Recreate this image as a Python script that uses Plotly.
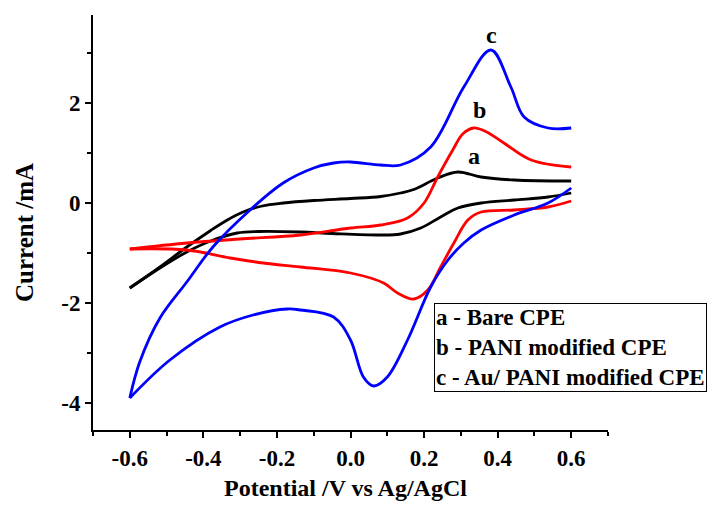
import plotly.graph_objects as go

# Curve a - Bare CPE
a_rev_x = [0.6, 0.537, 0.445, 0.355, 0.292, 0.245, 0.191, 0.136, 0.082, -0.05, -0.136, -0.25, -0.308, -0.38, -0.445, -0.518, -0.6]
a_rev_y = [0.20, 0.12, 0.06, 0.0, -0.10, -0.28, -0.50, -0.62, -0.64, -0.61, -0.58, -0.57, -0.60, -0.76, -0.98, -1.30, -1.70]
a_fwd_x = [-0.6, -0.518, -0.445, -0.38, -0.335, -0.292, -0.24, -0.183, -0.1, 0.0, 0.082, 0.136, 0.172, 0.237, 0.292, 0.355, 0.445, 0.6]
a_fwd_y = [-1.70, -1.28, -0.88, -0.55, -0.34, -0.18, -0.06, 0.0, 0.05, 0.09, 0.13, 0.20, 0.27, 0.50, 0.62, 0.52, 0.46, 0.44]

# Curve b - PANI modified CPE
b_rev_x = [0.6, 0.537, 0.445, 0.355, 0.319, 0.281, 0.245, 0.21, 0.172, 0.128, 0.09, 0.0, -0.136, -0.237, -0.327, -0.445, -0.6]
b_rev_y = [0.04, -0.08, -0.14, -0.18, -0.34, -0.80, -1.28, -1.74, -1.92, -1.80, -1.60, -1.40, -1.28, -1.20, -1.10, -0.94, -0.92]
b_fwd_x = [-0.6, -0.445, -0.3, -0.136, 0.0, 0.082, 0.155, 0.2, 0.237, 0.278, 0.305, 0.335, 0.37, 0.417, 0.491, 0.6]
b_fwd_y = [-0.92, -0.80, -0.72, -0.64, -0.50, -0.44, -0.30, 0.0, 0.52, 1.06, 1.38, 1.50, 1.42, 1.20, 0.86, 0.72]

# Curve c - Au/ PANI modified CPE
c_rev_x = [0.6, 0.537, 0.445, 0.355, 0.308, 0.265, 0.218, 0.155, 0.1, 0.063, 0.035, 0.0, -0.046, -0.136, -0.172, -0.265, -0.355, -0.491, -0.6]
c_rev_y = [0.30, 0.0, -0.24, -0.54, -0.80, -1.14, -1.68, -2.74, -3.48, -3.66, -3.48, -2.74, -2.28, -2.14, -2.12, -2.24, -2.48, -3.14, -3.90]
c_fwd_x = [-0.6, -0.573, -0.518, -0.445, -0.374, -0.273, -0.183, -0.1, -0.046, 0.0, 0.082, 0.136, 0.218, 0.308, 0.382, 0.436, 0.472, 0.537, 0.6]
c_fwd_y = [-3.90, -3.18, -2.30, -1.58, -0.88, -0.14, 0.40, 0.70, 0.80, 0.82, 0.76, 0.76, 1.12, 2.32, 3.06, 2.32, 1.72, 1.50, 1.50]

curve_labels = ["a", "b", "c"]
label_x = [0.335, 0.352, 0.382]
label_y = [0.94, 1.86, 3.36]

legend_lines = ["a - Bare CPE", "b - PANI modified CPE", "c - Au/ PANI modified CPE"]

x_ticks = [-0.6, -0.4, -0.2, 0.0, 0.2, 0.4, 0.6]
x_ticktext = ["-0.6", "-0.4", "-0.2", "0.0", "0.2", "0.4", "0.6"]
y_ticks = [-4, -2, 0, 2]
y_ticktext = ["-4", "-2", "0", "2"]

FONT = "Liberation Serif, Times New Roman, serif"

fig = go.Figure()
series = [
    (a_rev_x, a_rev_y, a_fwd_x, a_fwd_y, "#000000"),
    (b_rev_x, b_rev_y, b_fwd_x, b_fwd_y, "#FF0000"),
    (c_rev_x, c_rev_y, c_fwd_x, c_fwd_y, "#0000FF"),
]
for rx, ry, fx, fy, col in series:
    for xs, ys in ((rx, ry), (fx, fy)):
        fig.add_trace(go.Scatter(x=xs, y=ys, mode="lines",
                                 line=dict(color=col, width=2.8, shape="spline", smoothing=1.0),
                                 showlegend=False, hoverinfo="skip"))

for t, lx, ly in zip(curve_labels, label_x, label_y):
    fig.add_annotation(x=lx, y=ly, xref="x", yref="y", text="<b>%s</b>" % t, showarrow=False,
                       font=dict(family=FONT, size=24, color="black"))

fig.add_annotation(x=0.662, y=0.306, xref="paper", yref="paper", xanchor="left", yanchor="top",
                   text="<br>".join("<b>%s</b>" % s for s in legend_lines), align="left",
                   showarrow=False, bordercolor="black", borderwidth=1, borderpad=1, bgcolor="white",
                   font=dict(family=FONT, size=23, color="black"))

fig.add_annotation(x=0.49, y=-0.14, xref="paper", yref="paper", xanchor="center", yanchor="middle",
                   text="<b>Potential /V vs Ag/AgCl</b>",
                   showarrow=False, font=dict(family=FONT, size=24, color="black"))
fig.add_annotation(x=-0.134, y=0.477, xref="paper", yref="paper", xanchor="center", yanchor="middle",
                   text="<b>Current /mA</b>", textangle=-90,
                   showarrow=False, font=dict(family=FONT, size=25, color="black"))

fig.update_layout(
    width=712, height=507,
    margin=dict(l=93, r=104, t=15, b=77),
    paper_bgcolor="white", plot_bgcolor="white",
    font=dict(family=FONT, color="black"),
    xaxis=dict(range=[-0.7, 0.7], tickvals=x_ticks, ticktext=x_ticktext, showgrid=False, zeroline=False,
               showline=True, linecolor="black", linewidth=2, ticks="outside", ticklen=6, tickwidth=2,
               tickcolor="black", tickfont=dict(family=FONT, size=23, weight="bold"),
               minor=dict(ticks="outside", ticklen=4, tickwidth=2, tickcolor="black", dtick=0.1, tick0=0.1)),
    yaxis=dict(range=[-4.54, 3.76], tickvals=y_ticks, ticktext=y_ticktext, showgrid=False, zeroline=False,
               showline=True, linecolor="black", linewidth=2, ticks="outside", ticklen=6, tickwidth=2,
               tickcolor="black", tickfont=dict(family=FONT, size=23, weight="bold"),
               minor=dict(ticks="outside", ticklen=4, tickwidth=2, tickcolor="black", dtick=1, tick0=1)),
)

fig.write_html("out.html", config={"displayModeBar": False},
               post_script="document.body.style.margin='0';document.body.style.overflow='hidden';")
